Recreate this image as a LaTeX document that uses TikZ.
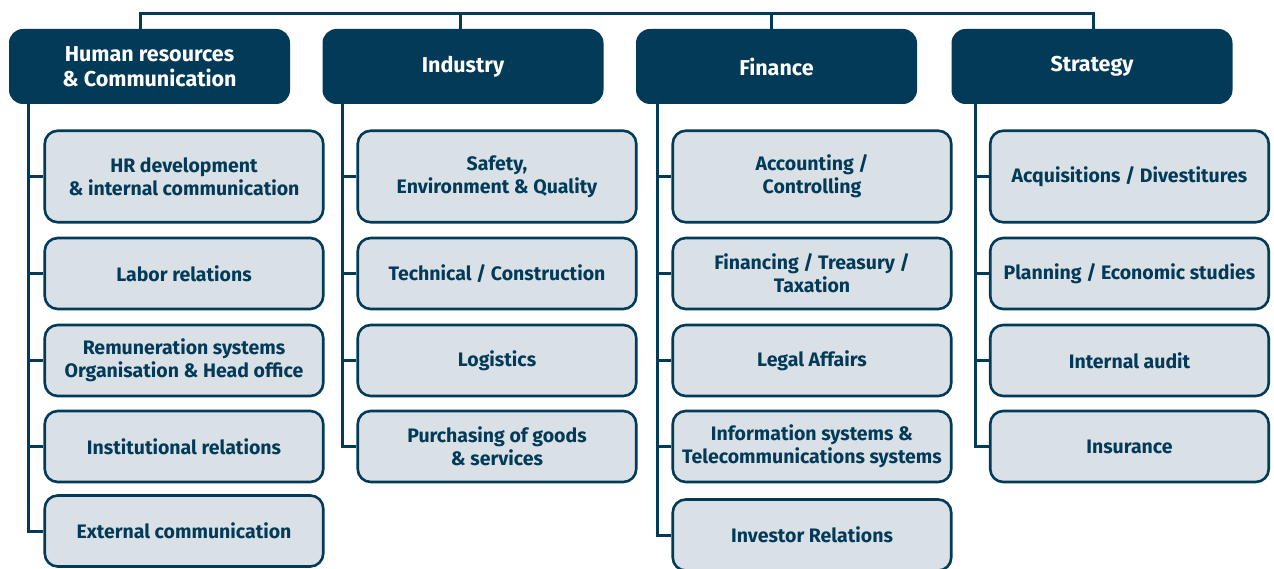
\documentclass[tikz,border=0pt]{standalone}
\usepackage{fontspec}
\setmainfont{Fira Sans}
\definecolor{navy}{RGB}{3,58,87}
\definecolor{pale}{RGB}{217,225,231}
\begin{document}
\begin{tikzpicture}[x=1pt,y=-1pt,
  head/.style={fill=navy, rounded corners=14pt, text=white, font=\bfseries\fontsize{21.5}{25.5}\selectfont, align=center, minimum width=281pt, minimum height=75pt, inner sep=0pt},
  unit/.style={draw=navy, line width=2.6pt, fill=pale, rounded corners=13pt, text=navy, font=\bfseries\fontsize{19.5}{23}\selectfont, align=center, minimum width=278.5pt, inner sep=0pt},
  tall/.style={unit, minimum height=91.5pt},
  short/.style={unit, minimum height=71pt},
  link/.style={draw=navy, line width=3pt}]
\useasboundingbox (0,0) rectangle (1274,569);
\clip (0,0) rectangle (1274,569);
% headers
\node[head] (hr) at (149.5,66.5) {Human resources\\\& Communication};
\node[head] (ind) at (463,66.5) {Industry};
\node[head] (fin) at (776.5,66.5) {Finance};
\node[head] (str) at (1092,66.5) {Strategy};
% top connector
\coordinate (t1) at (140,14);
\coordinate (t2) at (460,14);
\coordinate (t3) at (771,14);
\coordinate (t4) at (1093,14);
\draw[link] (t1 |- hr.north) -- (t1) -- (t4) -- (t4 |- str.north);
\draw[link] (t2) -- (t2 |- ind.north);
\draw[link] (t3) -- (t3 |- fin.north);
% HR column
\node[tall]  (h1) at (184,176.5) {HR development\\\& internal communication};
\node[short] (h2) at (184,273.5) {Labor relations};
\node[short] (h3) at (184,360.5) {Remuneration systems\\Organisation \& Head office};
\node[short] (h4) at (184,446.5) {Institutional relations};
\node[short] (h5) at (184,531) {External communication};
% Industry column
\node[tall]  (i1) at (497,176.5) {Safety,\\Environment \& Quality};
\node[short] (i2) at (497,273.5) {Technical / Construction};
\node[short] (i3) at (497,360.5) {Logistics};
\node[short] (i4) at (497,446.5) {Purchasing of goods\\\& services};
% Finance column
\node[tall]  (f1) at (812,176.5) {Accounting /\\Controlling};
\node[short] (f2) at (812,273.5) {Financing / Treasury /\\Taxation};
\node[short] (f3) at (812,360.5) {Legal Affairs};
\node[short] (f4) at (812,446.5) {Information systems \&\\Telecommunications systems};
\node[short] (f5) at (812,535) {Investor Relations};
% Strategy column
\node[tall]  (s1) at (1129.5,176.5) {Acquisitions / Divestitures};
\node[short] (s2) at (1129.5,273.5) {Planning / Economic studies};
\node[short] (s3) at (1129.5,360.5) {Internal audit};
\node[short] (s4) at (1129.5,446.5) {Insurance};
% column connectors
\coordinate (vh) at (28,0);
\coordinate (vi) at (342,0);
\coordinate (vf) at (657,0);
\coordinate (vs) at (975,0);
\draw[link] (hr.south -| vh) |- (h5.west);
\foreach \n in {h1,h2,h3,h4} \draw[link] (\n.west -| vh) -- (\n.west);
\draw[link] (ind.south -| vi) |- (i4.west);
\foreach \n in {i1,i2,i3} \draw[link] (\n.west -| vi) -- (\n.west);
\draw[link] (fin.south -| vf) |- (f5.west);
\foreach \n in {f1,f2,f3,f4} \draw[link] (\n.west -| vf) -- (\n.west);
\draw[link] (str.south -| vs) |- (s4.west);
\foreach \n in {s1,s2,s3} \draw[link] (\n.west -| vs) -- (\n.west);
\end{tikzpicture}
\end{document}
